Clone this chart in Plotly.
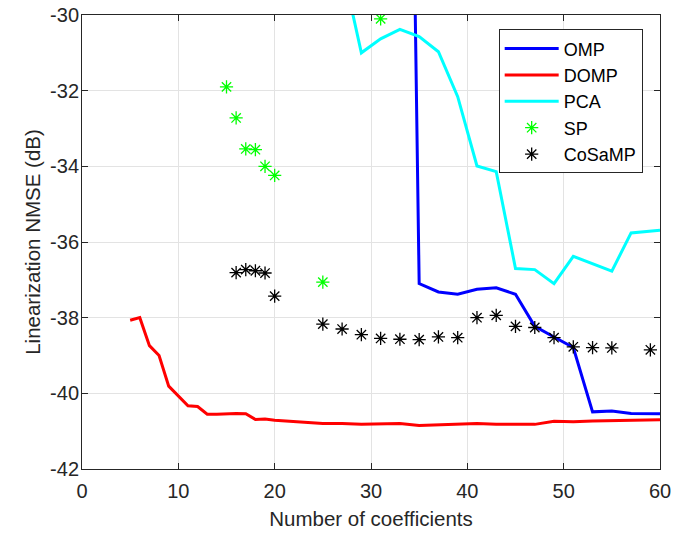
import plotly.graph_objects as go

# OMP
omp_x = [33, 35, 37, 39, 41, 43, 45, 47, 49, 51, 53, 55, 57, 60]
omp_y = [-2.0, -37.10, -37.32, -37.38, -37.25, -37.21, -37.38, -38.23, -38.51, -38.79, -40.49, -40.47, -40.53, -40.54]

# DOMP
domp_x = [5, 6, 7, 8, 9, 10, 11, 12, 13, 14, 15, 16, 17, 18, 19, 20,
          25, 27, 29, 31, 33, 35, 37, 39, 41, 43, 45, 47, 49, 51, 53, 55, 60]
domp_y = [-38.07, -38.0, -38.74, -39.0, -39.81, -40.06, -40.33, -40.35, -40.55, -40.55,
          -40.53, -40.53, -40.54, -40.69, -40.68, -40.71,
          -40.80, -40.80, -40.82, -40.81, -40.80, -40.85, -40.83, -40.81, -40.80, -40.82,
          -40.82, -40.82, -40.74, -40.75, -40.73, -40.72, -40.70]

# PCA
pca_x = [27, 29, 31, 33, 35, 37, 39, 41, 43, 45, 47, 49, 51, 55, 57, 60]
pca_y = [-28.7, -31.0, -30.63, -30.38, -30.57, -30.97, -32.16, -33.99, -34.14, -36.70,
         -36.73, -37.10, -36.38, -36.77, -35.76, -35.69]

# SP
sp_x = [15, 16, 17, 18, 19, 20, 25, 31]
sp_y = [-31.9, -32.72, -33.54, -33.56, -34.0, -34.24, -37.06, -30.1]

# CoSaMP
cosamp_x = [16, 17, 18, 19, 20, 25, 27, 29, 31, 33, 35, 37, 39, 41, 43, 45, 47, 49, 51, 53, 55, 59]
cosamp_y = [-36.81, -36.73, -36.76, -36.82, -37.43, -38.17, -38.30, -38.45, -38.55, -38.57,
            -38.58, -38.51, -38.53, -38.00, -37.94, -38.23, -38.26, -38.53, -38.77, -38.79,
            -38.80, -38.85]

x_ticks = [0, 10, 20, 30, 40, 50, 60]
y_ticks = [-42, -40, -38, -36, -34, -32, -30]

FONT = "Liberation Sans, Arial, sans-serif"

fig = go.Figure()
fig.add_trace(go.Scatter(x=omp_x, y=omp_y, mode="lines", name="OMP",
                         line=dict(color="#0000ff", width=3)))
fig.add_trace(go.Scatter(x=domp_x, y=domp_y, mode="lines", name="DOMP",
                         line=dict(color="#ff0000", width=3)))
fig.add_trace(go.Scatter(x=pca_x, y=pca_y, mode="lines", name="PCA",
                         line=dict(color="#00ffff", width=3)))
fig.add_trace(go.Scatter(x=sp_x, y=sp_y, mode="markers", name="SP",
                         marker=dict(symbol="asterisk-open", size=11, color="#00ff00",
                                     line=dict(color="#00ff00", width=1.3))))
fig.add_trace(go.Scatter(x=cosamp_x, y=cosamp_y, mode="markers", name="CoSaMP",
                         marker=dict(symbol="asterisk-open", size=11, color="#000000",
                                     line=dict(color="#000000", width=1.3))))

axis_common = dict(
    showline=True, linecolor="#262626", linewidth=1, mirror="allticks",
    ticks="inside", ticklen=6, tickcolor="#262626",
    showgrid=True, gridcolor="#e3e3e3", gridwidth=1, zeroline=False,
    ticklabeloverflow="allow", automargin=False,
    tickfont=dict(family=FONT, size=20, color="#262626"),
)

fig.update_xaxes(range=[0, 60], tickvals=x_ticks, ticktext=[str(v) for v in x_ticks],
                 ticklabelstandoff=4,
                 title=dict(text="Number of coefficients", standoff=10,
                            font=dict(family=FONT, size=20.5, color="#262626")),
                 **axis_common)
fig.update_yaxes(range=[-42, -30], tickvals=y_ticks, ticktext=[str(v) for v in y_ticks],
                 ticklabelstandoff=-2,
                 title=dict(text="Linearization NMSE (dB)", standoff=3,
                            font=dict(family=FONT, size=20.5, color="#262626")),
                 **axis_common)

fig.update_layout(
    width=688, height=535,
    margin=dict(l=82, r=28, t=15, b=66, autoexpand=False),
    plot_bgcolor="white", paper_bgcolor="white",
    showlegend=True,
    legend=dict(x=0.7209, y=0.9685, xanchor="left", yanchor="top",
                bgcolor="white", bordercolor="#262626", borderwidth=1,
                font=dict(family=FONT, size=18, color="#000000"),
                tracegroupgap=0, itemwidth=54),
)

fig.write_html("out.html", config={"displayModeBar": False},
               post_script="document.body.style.margin='0px';")
